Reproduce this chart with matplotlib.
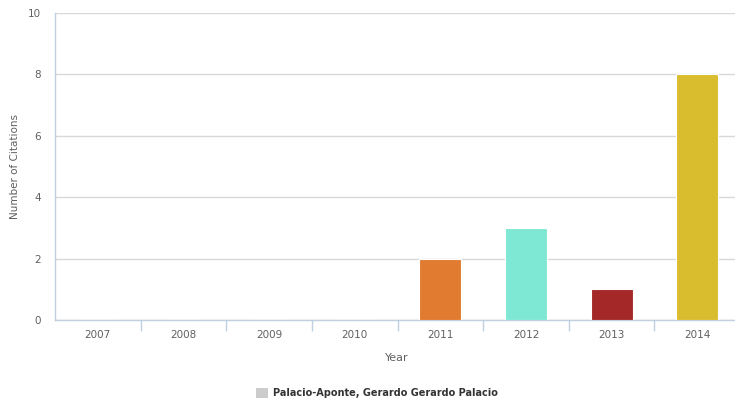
import matplotlib
matplotlib.use("Agg")
import matplotlib.pyplot as plt
from matplotlib.patches import Patch
import numpy as np

years = ["2007", "2008", "2009", "2010", "2011", "2012", "2013", "2014"]
citations = [0, 0, 0, 0, 2, 3, 1, 8]
bar_colors = ["#7cb5ec", "#434348", "#90ed7d", "#f7a35c",
              "#e07b30", "#7fe8d4", "#a52828", "#dabd2e"]
yticks = [0, 2, 4, 6, 8, 10]
series_name = "Palacio-Aponte, Gerardo Gerardo Palacio"

plt.rcParams['font.family'] = ['DejaVu Sans']

fig = plt.figure(figsize=(7.35, 4.01), dpi=100)
ax = fig.add_axes([55/735, 1 - 320/401, 685/735, 307/401])

x = np.arange(len(years))
ax.bar(x, citations, width=0.49, color=bar_colors, edgecolor="white",
       linewidth=0.8, zorder=3)

ax.set_xlim(-0.5, len(years) - 0.5)
ax.set_ylim(0, 10)
ax.set_yticks(yticks)
ax.set_xticks(x)
ax.set_xticklabels(years)
ax.set_xticks(np.arange(0.5, len(years) - 0.5, 1), minor=True)

ax.grid(axis="y", color="#d8d8d8", linewidth=1, zorder=0)
for s in ["top", "right"]:
    ax.spines[s].set_visible(False)
for s in ["left", "bottom"]:
    ax.spines[s].set_color("#c0d0e0")
    ax.spines[s].set_linewidth(1)

ax.tick_params(axis="y", length=0, pad=10, labelsize=7.5, labelcolor="#606060")
ax.tick_params(axis="x", which="major", length=0, pad=7, labelsize=7.5,
               labelcolor="#606060")
ax.tick_params(axis="x", which="minor", length=8, width=1, color="#c0d0e0")

ax.set_ylabel("Number of Citations", fontsize=7.5, color="#606060")
ax.yaxis.set_label_coords((20 - 55) / 685, 0.5)
ax.set_xlabel("Year", fontsize=8, color="#606060")
ax.xaxis.set_label_coords((397 - 55) / 685, -(353 - 320) / 307)

handle = Patch(facecolor="#cccccc", edgecolor="none")
fig.legend([handle], [series_name], loc="center", bbox_to_anchor=(377/735, 1 - 393/401),
           frameon=False, prop={"size": 7, "weight": "bold"},
           handlelength=1.2, handleheight=1.2, handletextpad=0.5,
           labelcolor="#333333")

fig.savefig("out.png", dpi=100)
